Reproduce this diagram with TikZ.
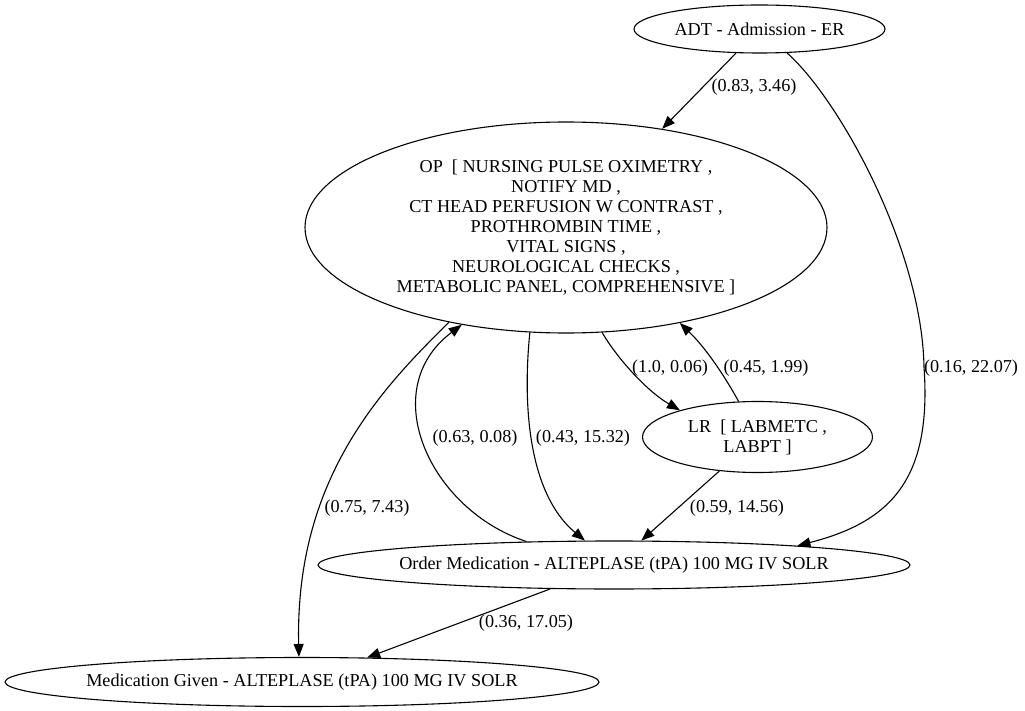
\documentclass[tikz,border=0pt]{standalone}
\usepackage{fontspec}
\setmainfont{Liberation Serif}
\usetikzlibrary{shapes.geometric,arrows.meta}
\begin{document}
\begin{tikzpicture}[x=1pt,y=-1pt,
  every node/.style={font=\fontsize{18.2}{20}\selectfont},
  state/.style={draw, ellipse, line width=1.1pt, inner sep=0pt, align=center},
  edge/.style={draw, line width=1.1pt, -{Triangle[length=13pt,width=10pt]}},
  elabel/.style={inner sep=0pt}]
\useasboundingbox (0,0) rectangle (1025,711);

% states
\node[state, minimum width=251, minimum height=48] (adt) at (759.5,29) {ADT - Admission - ER};
\node[state, minimum width=522, minimum height=211] (op) at (566,227.5)
  {OP\ \ [ NURSING PULSE OXIMETRY ,\\
   NOTIFY MD ,\\
   CT HEAD PERFUSION W CONTRAST ,\\
   PROTHROMBIN TIME ,\\
   VITAL SIGNS ,\\
   NEUROLOGICAL CHECKS ,\\
   METABOLIC PANEL, COMPREHENSIVE ]};
\node[state, minimum width=230, minimum height=71] (lr) at (757.5,437)
  {LR\ \ [ LABMETC ,\\ LABPT ]};
\node[state, minimum width=592, minimum height=48] (om) at (614,565)
  {\makebox[0pt]{Order Medication - ALTEPLASE (tPA) 100 MG IV SOLR}};
\node[state, minimum width=594, minimum height=49] (mg) at (302,682)
  {\makebox[0pt]{Medication Given - ALTEPLASE (tPA) 100 MG IV SOLR}};

\coordinate (c1) at (924,367);

% edges
\draw[edge] (adt) -- (op);
\draw[edge] (adt.-41.1) .. controls (840,100) and (922,250) .. (c1)
            .. controls (932,480) and (890,522) .. (om.6.5);
\draw[edge] (op.-71) .. controls (615,355) and (645,390) .. (lr.161.3);
\draw[edge] (lr.118.7) .. controls (728,382) and (708,350) .. (op.-40.7);
\draw[edge] (op.-109) .. controls (522,410) and (530,495) .. (om.140.5);
\draw[edge] (om.165.3) .. controls (430,510) and (375,390) .. (op.223.25);
\draw[edge] (op.219.8) .. controls (380,390) and (295,480) .. (mg.97);
\draw[edge] (lr) -- (om);
\draw[edge] (om) -- (mg);

% edge labels
\node[elabel] (l1) at (754,87) {(0.83, 3.46)};
\node[elabel] (l2) at (971,368) {(0.16, 22.07)};
\node[elabel] (l3) at (670,368) {(1.0, 0.06)};
\node[elabel] (l4) at (766,368) {(0.45, 1.99)};
\node[elabel] (l5) at (737,508) {(0.59, 14.56)};
\node[elabel] (l6) at (475,438) {(0.63, 0.08)};
\node[elabel] (l7) at (583,438) {(0.43, 15.32)};
\node[elabel] (l8) at (367,508) {(0.75, 7.43)};
\node[elabel] (l9) at (526,623) {(0.36, 17.05)};
\end{tikzpicture}
\end{document}
